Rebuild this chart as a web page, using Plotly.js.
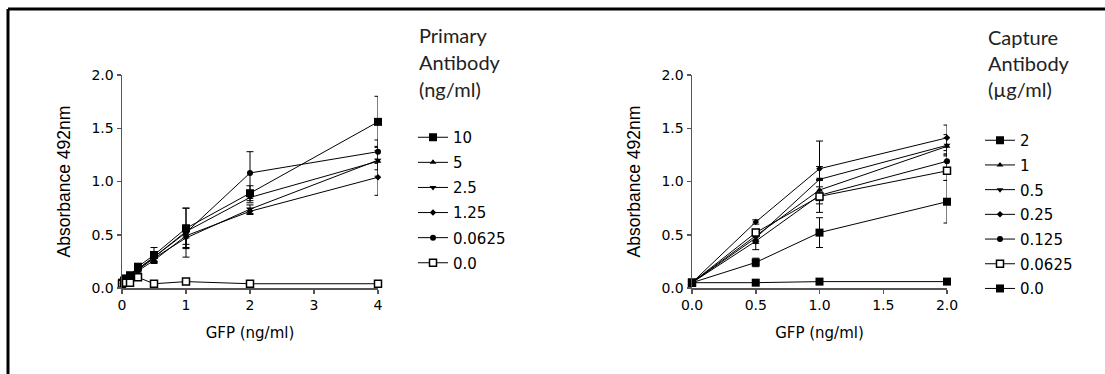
<!DOCTYPE html>
<html>
<head>
<meta charset="utf-8">
<script src="https://cdn.plot.ly/plotly-3.0.1.min.js"></script>
<style>html,body{margin:0;padding:0;background:#fff;}#chart{width:1105px;height:374px;}</style>
</head>
<body>
<div id="chart"></div>
<script>
// ---- Left panel: Primary Antibody (ng/ml) ----
const gfpLeft = [0, 0.03125, 0.0625, 0.125, 0.25, 0.5, 1, 2, 4];
const primaryNames = ["10", "5", "2.5", "1.25", "0.0625", "0.0"];
const primary10     = [0.05, 0.07, 0.09, 0.12, 0.20, 0.31, 0.56, 0.89, 1.56];
const primary5      = [0.05, 0.06, 0.08, 0.11, 0.18, 0.29, 0.53, 0.85, 1.19];
const primary2_5    = [0.05, 0.06, 0.08, 0.11, 0.17, 0.28, 0.47, 0.74, 1.20];
const primary1_25   = [0.04, 0.06, 0.07, 0.10, 0.16, 0.26, 0.49, 0.72, 1.04];
const primary0_0625 = [0.05, 0.07, 0.09, 0.12, 0.18, 0.29, 0.52, 1.08, 1.28];
const primary0      = [0.04, 0.05, 0.05, 0.05, 0.10, 0.04, 0.06, 0.04, 0.04];
const primary10Err     = [0.01, 0.01, 0.01, 0.02, 0.02, 0.07, 0.19, 0.07, 0.24];
const primary5Err      = [0.01, 0.01, 0.01, 0.01, 0.02, 0.04, 0.06, 0.05, 0.14];
const primary2_5Err    = [0.01, 0.01, 0.01, 0.01, 0.02, 0.03, 0.09, 0.04, 0.09];
const primary1_25Err   = [0.01, 0.01, 0.01, 0.01, 0.02, 0.03, 0.08, 0.03, 0.17];
const primary0_0625Err = [0.01, 0.01, 0.01, 0.02, 0.02, 0.05, 0.23, 0.20, 0.11];
const primary0Err      = [0.00, 0.00, 0.00, 0.00, 0.01, 0.00, 0.01, 0.00, 0.00];

// ---- Right panel: Capture Antibody (µg/ml) ----
const gfpRight = [0, 0.5, 1, 2];
const captureNames = ["2", "1", "0.5", "0.25", "0.125", "0.0625", "0.0"];
const capture2      = [0.05, 0.24, 0.52, 0.81];
const capture1      = [0.05, 0.49, 0.92, 1.33];
const capture0_5    = [0.05, 0.47, 1.02, 1.34];
const capture0_25   = [0.05, 0.62, 1.12, 1.41];
const capture0_125  = [0.05, 0.44, 0.87, 1.19];
const capture0_0625 = [0.05, 0.52, 0.86, 1.10];
const capture0      = [0.05, 0.05, 0.06, 0.06];
const capture2Err      = [0.01, 0.04, 0.14, 0.20];
const capture1Err      = [0.01, 0.05, 0.10, 0.08];
const capture0_5Err    = [0.01, 0.05, 0.12, 0.10];
const capture0_25Err   = [0.01, 0.02, 0.26, 0.12];
const capture0_125Err  = [0.01, 0.08, 0.08, 0.07];
const capture0_0625Err = [0.01, 0.03, 0.15, 0.09];
const capture0Err      = [0.00, 0.00, 0.00, 0.00];

const xTicksLeft = [0, 1, 2, 3, 4];
const xTicksRight = [0, 0.5, 1, 1.5, 2];
const xTickTextRight = ["0.0", "0.5", "1.0", "1.5", "2.0"];
const yTicks = [0, 0.5, 1, 1.5, 2];
const yTickText = ["0.0", "0.5", "1.0", "1.5", "2.0"];

const markerStyles = {
  "square": {symbol: "square", size: 8, color: "#000"},
  "up": {symbol: "triangle-up", size: 6, color: "#000"},
  "down": {symbol: "triangle-down", size: 6, color: "#000"},
  "diamond": {symbol: "diamond", size: 5, color: "#000"},
  "circle": {symbol: "circle", size: 6, color: "#000"},
  "open": {symbol: "square", size: 7, color: "#fff", line: {color: "#000", width: 1.5}}
};

function mk(x, y, err, name, style, xa, ya, legend, group) {
  const m = Object.assign({}, markerStyles[style]);
  if (!m.line) m.line = {color: "#000", width: 0};
  return {
    type: "scatter", mode: "lines+markers", x: x, y: y, name: name,
    xaxis: xa, yaxis: ya, legend: legend, legendgroup: group, cliponaxis: false,
    line: {color: "#000", width: 1},
    marker: m,
    error_y: {type: "data", array: err, visible: true, color: "#000", thickness: 1, width: 3.5}
  };
}

const leftSeries = [primary10, primary5, primary2_5, primary1_25, primary0_0625, primary0];
const leftErr = [primary10Err, primary5Err, primary2_5Err, primary1_25Err, primary0_0625Err, primary0Err];
const leftStyles = ["square", "up", "down", "diamond", "circle", "open"];
const rightSeries = [capture2, capture1, capture0_5, capture0_25, capture0_125, capture0_0625, capture0];
const rightErr = [capture2Err, capture1Err, capture0_5Err, capture0_25Err, capture0_125Err, capture0_0625Err, capture0Err];
const rightStyles = ["square", "up", "down", "diamond", "circle", "open", "square"];

const traces = [];
leftSeries.forEach((s, i) => traces.push(mk(gfpLeft, s, leftErr[i], primaryNames[i], leftStyles[i], "x", "y", "legend", "L" + i)));
rightSeries.forEach((s, i) => traces.push(mk(gfpRight, s, rightErr[i], captureNames[i], rightStyles[i], "x2", "y2", "legend2", "R" + i)));

const W = 1105, H = 374;
const axisCommon = {
  showgrid: false, zeroline: false, showline: true, linecolor: "#555", linewidth: 1.5,
  ticks: "outside", ticklen: 4, tickcolor: "#555", tickwidth: 1.5,
  tickfont: {family: "DejaVu Sans", size: 14, color: "#000"},
  fixedrange: true
};
const xTitleFont = {family: "DejaVu Sans", size: 15, color: "#000"};
const yTitleFont = {family: "Liberation Sans", size: 17.5, color: "#000"};
const legFont = {family: "DejaVu Sans", size: 15, color: "#000"};
const capFont = {family: "Lato", size: 20, color: "#222"};

const yDom = [1 - 288 / H, 1 - 75 / H];

const layout = {
  width: W, height: H,
  margin: {l: 0, r: 0, t: 0, b: 0},
  paper_bgcolor: "#fff", plot_bgcolor: "#fff",
  showlegend: true,
  xaxis: Object.assign({}, axisCommon, {domain: [122 / W, 378 / W], range: [0, 4], tickvals: xTicksLeft, anchor: "y",
    title: {text: "GFP (ng/ml)", font: xTitleFont, standoff: 15}}),
  yaxis: Object.assign({}, axisCommon, {domain: yDom, range: [0, 2], tickvals: yTicks, ticktext: yTickText, anchor: "x",
    title: {text: "Absorbance 492nm", font: yTitleFont, standoff: 16}}),
  xaxis2: Object.assign({}, axisCommon, {domain: [692 / W, 947 / W], range: [0, 2], tickvals: xTicksRight, ticktext: xTickTextRight, anchor: "y2",
    title: {text: "GFP (ng/ml)", font: xTitleFont, standoff: 15}}),
  yaxis2: Object.assign({}, axisCommon, {domain: yDom, range: [0, 2], tickvals: yTicks, ticktext: yTickText, anchor: "x2",
    title: {text: "Absorbance 492nm", font: yTitleFont, standoff: 16}}),
  legend: {x: 413 / W, y: 1 - 121 / H, xanchor: "left", yanchor: "top", font: legFont, bgcolor: "rgba(0,0,0,0)", itemwidth: 30, tracegroupgap: 2.6},
  legend2: {x: 980 / W, y: 1 - 124 / H, xanchor: "left", yanchor: "top", font: legFont, bgcolor: "rgba(0,0,0,0)", itemwidth: 30, tracegroupgap: 2.2},
  annotations: [
    {text: "Primary", x: 417 / W, y: 1 - 35 / H},
    {text: "Antibody", x: 417 / W, y: 1 - 62 / H},
    {text: "(ng/ml)", x: 417 / W, y: 1 - 89 / H},
    {text: "Capture", x: 986 / W, y: 1 - 37 / H},
    {text: "Antibody", x: 986 / W, y: 1 - 63 / H},
    {text: "(µg/ml)", x: 986 / W, y: 1 - 89 / H}
  ].map(a => Object.assign({xref: "paper", yref: "paper", xanchor: "left", yanchor: "middle", showarrow: false, font: capFont}, a)),
  shapes: [
    {type: "line", xref: "paper", yref: "paper", x0: 8 / W, x1: 1, y0: 1 - 9 / H, y1: 1 - 9 / H, line: {color: "#000", width: 3}},
    {type: "line", xref: "paper", yref: "paper", x0: 8 / W, x1: 8 / W, y0: 0, y1: 1 - 9 / H, line: {color: "#000", width: 3}}
  ]
};

Plotly.newPlot("chart", traces, layout, {displayModeBar: false, staticPlot: true});
</script>
</body>
</html>
